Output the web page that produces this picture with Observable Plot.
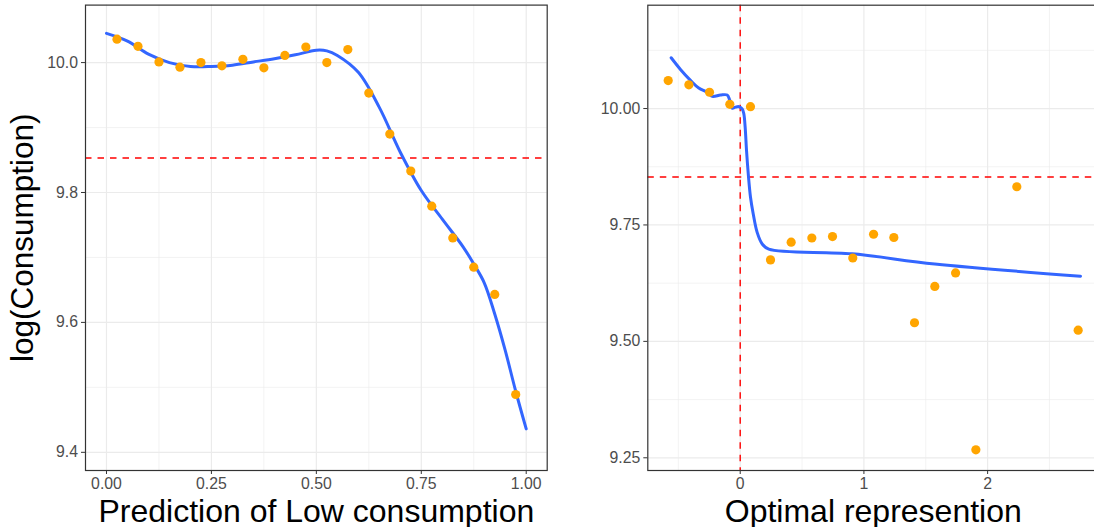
<!DOCTYPE html>
<html>
<head>
<meta charset="utf-8">
<script src="https://cdn.jsdelivr.net/npm/d3@7"></script>
<script src="https://cdn.jsdelivr.net/npm/@observablehq/plot@0.6"></script>
<style>
  html, body { margin: 0; padding: 0; background: #fff; overflow: hidden; }
  #wrap { position: relative; width: 1094px; height: 527px; overflow: hidden; background: #fff; }
  #left, #right { position: absolute; top: 0; height: 527px; }
  #left { left: 0; width: 560px; }
  #right { left: 560px; width: 540px; }
  #wrap svg { max-width: none !important; }
</style>
</head>
<body>
<div id="wrap"><div id="left"></div><div id="right"></div></div>
<script>
// ---- Left panel data ----
const leftX = [0.025, 0.075, 0.125, 0.175, 0.225, 0.275, 0.325, 0.375, 0.425, 0.475, 0.525, 0.575, 0.625, 0.675, 0.725, 0.775, 0.825, 0.875, 0.925, 0.975];
const leftY = [10.036, 10.025, 10.001, 9.993, 10.000, 9.995, 10.005, 9.992, 10.011, 10.024, 10.000, 10.020, 9.953, 9.890, 9.833, 9.779, 9.730, 9.685, 9.643, 9.489];
const leftFitX = [0, 0.05, 0.1, 0.15, 0.2, 0.25, 0.3, 0.35, 0.4, 0.45, 0.5, 0.525, 0.55, 0.6, 0.65, 0.7, 0.75, 0.8, 0.85, 0.875, 0.9, 0.925, 0.95, 0.975, 1.0];
const leftFitY = [10.045, 10.033, 10.013, 10.000, 9.994, 9.994, 9.996, 10.001, 10.006, 10.012, 10.019, 10.018, 10.011, 9.985, 9.931, 9.862, 9.803, 9.759, 9.716, 9.690, 9.661, 9.613, 9.557, 9.494, 9.436];
const leftXTicks = [0, 0.25, 0.5, 0.75, 1];
const leftXMinor = [0.125, 0.375, 0.625, 0.875];
const leftYTicks = [9.4, 9.6, 9.8, 10.0];
const leftYMinor = [9.5, 9.7, 9.9];
const leftXLabel = "Prediction of Low consumption";
const leftYLabel = "log(Consumption)";

// ---- Right panel data ----
const rightX = [-0.582, -0.415, -0.248, -0.084, 0.083, 0.245, 0.412, 0.579, 0.746, 0.910, 1.078, 1.242, 1.409, 1.573, 1.741, 1.905, 2.236, 2.732];
const rightY = [10.060, 10.051, 10.035, 10.009, 10.004, 9.675, 9.713, 9.722, 9.725, 9.679, 9.730, 9.723, 9.540, 9.618, 9.647, 9.267, 9.832, 9.524];
const rightFitX = [-0.558, -0.483, -0.40, -0.335, -0.267, -0.226, -0.159, -0.105, -0.086, -0.065, -0.038, -0.011, 0.016, 0.029, 0.040, 0.051, 0.065, 0.083, 0.105, 0.137, 0.178, 0.231, 0.905, 1.573, 2.751];
const rightFitY = [10.109, 10.084, 10.060, 10.044, 10.035, 10.026, 10.029, 10.029, 10.019, 10.001, 10.003, 10.004, 9.999, 9.989, 9.960, 9.910, 9.860, 9.810, 9.774, 9.734, 9.709, 9.698, 9.688, 9.666, 9.640];
const rightXTicks = [0, 1, 2];
const rightXMinor = [-0.5, 0.5, 1.5, 2.5];
const rightYTicks = [9.25, 9.5, 9.75, 10.0];
const rightYMinor = [9.375, 9.625, 9.875, 10.125];
const rightXLabel = "Optimal represention";

const hLine = 9.853;
const vLine = 0;

// ---- Styles ----
const FONT = "Liberation Sans, Arial, Helvetica, sans-serif";
const GRID = "#ebebeb";
const TICKTEXT = "#4d4d4d";
const BORDER = "#333333";

function zip(xs, ys) { return xs.map((x, i) => ({x, y: ys[i]})); }

function panel({width, marginLeft, marginRight, marginTop, xDomain, yDomain,
                xTicks, xMinor, yTicks, yMinor, xFmt, yFmt, pts, fit, xLabel, yLabel, vRule}) {
  const marks = [
    Plot.gridX(xMinor, {stroke: GRID, strokeOpacity: 1, strokeWidth: 0.6}),
    Plot.gridY(yMinor, {stroke: GRID, strokeOpacity: 1, strokeWidth: 0.6}),
    Plot.gridX(xTicks, {stroke: GRID, strokeOpacity: 1, strokeWidth: 1.2}),
    Plot.gridY(yTicks, {stroke: GRID, strokeOpacity: 1, strokeWidth: 1.2}),
    Plot.ruleY([hLine], {stroke: "red", strokeWidth: 1.4, strokeDasharray: "6.5,6"}),
  ];
  if (vRule !== undefined) marks.push(Plot.ruleX([vRule], {stroke: "red", strokeWidth: 1.4, strokeDasharray: "6.5,6"}));
  marks.push(
    Plot.line(fit, {x: "x", y: "y", stroke: "#3366FF", strokeWidth: 3, curve: "catmull-rom"}),
    Plot.dot(pts, {x: "x", y: "y", r: 4.6, fill: "#FFA500", stroke: "none"}),
    Plot.frame({stroke: BORDER, strokeWidth: 1.2}),
    Plot.axisX({ticks: xTicks, tickFormat: xFmt, tickSize: 4, tickPadding: 3, fontSize: 15.8, stroke: BORDER, fill: TICKTEXT, label: null}),
    Plot.axisY({ticks: yTicks, tickFormat: yFmt, tickSize: 4, tickPadding: 3.5, fontSize: 15.8, stroke: BORDER, fill: TICKTEXT, label: null}),
    Plot.text([xLabel], {text: d => d, frameAnchor: "bottom", dy: 51, lineAnchor: "bottom", fontSize: 32, fill: "#000", fontFamily: FONT})
  );
  if (yLabel) marks.push(Plot.text([yLabel], {text: d => d, frameAnchor: "left", dx: -75, rotate: -90, textAnchor: "middle", lineAnchor: "top", fontSize: 31.5, fill: "#000", fontFamily: FONT}));
  return Plot.plot({
    width, height: 527,
    marginLeft, marginRight, marginTop, marginBottom: 57,
    style: {fontFamily: FONT, background: "transparent", overflow: "visible", maxWidth: "none"},
    x: {domain: xDomain, axis: null},
    y: {domain: yDomain, axis: null},
    marks
  });
}

document.getElementById("left").appendChild(panel({
  width: 560, marginLeft: 85, marginRight: 13.3, marginTop: 4.6,
  xDomain: [-0.05, 1.05], yDomain: [9.372, 10.0885],
  xTicks: leftXTicks, xMinor: leftXMinor, yTicks: leftYTicks, yMinor: leftYMinor,
  xFmt: d3.format(".2f"), yFmt: d3.format(".1f"),
  pts: zip(leftX, leftY), fit: zip(leftFitX, leftFitY),
  xLabel: leftXLabel, yLabel: leftYLabel
}));

document.getElementById("right").appendChild(panel({
  width: 540, marginLeft: 87.3, marginRight: 1.8, marginTop: 4.7,
  xDomain: [-0.747, 2.898], yDomain: [9.2227, 10.2219],
  xTicks: rightXTicks, xMinor: rightXMinor, yTicks: rightYTicks, yMinor: rightYMinor,
  xFmt: d3.format("d"), yFmt: d3.format(".2f"),
  pts: zip(rightX, rightY), fit: zip(rightFitX, rightFitY),
  xLabel: rightXLabel, yLabel: null, vRule: vLine
}));
</script>
</body>
</html>
